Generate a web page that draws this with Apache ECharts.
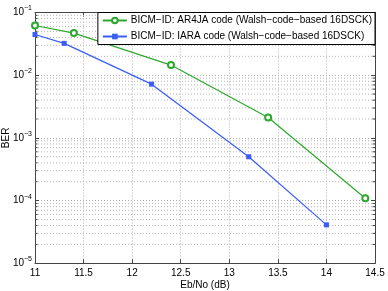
<!DOCTYPE html>
<html><head><meta charset="utf-8">
<script src="https://cdn.jsdelivr.net/npm/echarts@6/dist/echarts.min.js"></script>
<style>html,body{margin:0;padding:0;background:#fff}#c{width:388px;height:291px}</style>
</head><body><div id="c"></div>
<script>
const ar4jaX = [11, 11.4, 12.4, 13.4, 14.4];
const ar4jaY = [0.062, 0.047, 0.0145, 0.00212, 1.09e-4];
const iaraX = [11, 11.3, 12.2, 13.2, 14.0];
const iaraY = [0.0445, 0.0322, 0.0072, 5.0e-4, 4.1e-5];
const ar4jaName = 'BICM\u2212ID: AR4JA code (Walsh\u2212code\u2212based 16DSCK)';
const iaraName = 'BICM\u2212ID: IARA code (Walsh\u2212code\u2212based 16DSCK)';
const decades = [1e-5, 1e-4, 1e-3, 1e-2];
const minorMult = [2, 3, 4, 5, 6, 7, 8, 9];
const xMin = 11, xMax = 14.5;

const minorVals = [];
decades.forEach(d => minorMult.forEach(m => minorVals.push(+(d * m).toPrecision(3))));

const font = 'Liberation Sans, Arial, Helvetica, sans-serif';
const gridLine = {show: true, lineStyle: {type: [1, 2], color: '#b0b0b0', width: 1}};
const chart = echarts.init(document.getElementById('c'), null, {renderer: 'canvas'});
const supFmt = v => {
  const e = Math.round(Math.log10(v));
  return '{b|10}{s|' + (e < 0 ? '\u2212' + (-e) : e) + '}';
};
const green = '#2ca82c', blue = '#3a5cf7';
chart.setOption({
  animation: false,
  backgroundColor: '#fff',
  textStyle: {fontFamily: font},
  grid: {left: 35, right: 13, top: 12.5, bottom: 27.7, containLabel: false, outerBoundsMode: 'none'},
  legend: {
    right: 13, top: 12.5, orient: 'vertical',
    backgroundColor: '#fff', borderColor: '#000', borderWidth: 1, borderRadius: 0,
    padding: [3, 3, 3, 4], itemGap: 6, itemWidth: 24, itemHeight: 7,
    textStyle: {fontFamily: font, fontSize: 10, color: '#000', padding: [0, 0, 0, -1]},
    data: [ar4jaName, iaraName]
  },
  xAxis: [{
    type: 'value', min: xMin, max: xMax, interval: 0.5,
    name: 'Eb/No (dB)', nameLocation: 'middle', nameGap: 17, nameMoveOverlap: false,
    nameTextStyle: {fontFamily: font, fontSize: 10, color: '#000'},
    axisLine: {show: true, lineStyle: {color: '#444', width: 1}},
    axisTick: {show: true, inside: true, length: 4, lineStyle: {color: '#444'}},
    axisLabel: {fontFamily: font, fontSize: 10, color: '#000', margin: 5},
    splitLine: gridLine
  }, {
    type: 'value', min: xMin, max: xMax, interval: 0.5, position: 'top',
    axisLine: {show: true, lineStyle: {color: '#444', width: 1}},
    axisTick: {show: true, inside: true, length: 4, lineStyle: {color: '#444'}},
    axisLabel: {show: false}, splitLine: {show: false}
  }],
  yAxis: [{
    type: 'log', min: 1e-5, max: 1e-1, logBase: 10,
    name: 'BER', nameLocation: 'middle', nameGap: 24, nameMoveOverlap: false,
    nameTextStyle: {fontFamily: font, fontSize: 10, color: '#000'},
    axisLine: {show: true, lineStyle: {color: '#444', width: 1}},
    axisTick: {show: true, inside: true, length: 4, lineStyle: {color: '#444'}},
    axisLabel: {
      fontFamily: font, color: '#000', margin: 3, formatter: supFmt,
      rich: {b: {fontSize: 10, fontFamily: font, color: '#000'},
             s: {fontSize: 7, fontFamily: font, color: '#000', padding: [0, 0, 8, 0]}}
    },
    splitLine: gridLine
  }, {
    type: 'log', min: 1e-5, max: 1e-1, logBase: 10, position: 'right',
    axisLine: {show: true, lineStyle: {color: '#444', width: 1}},
    axisTick: {show: true, inside: true, length: 4, lineStyle: {color: '#444'}},
    axisLabel: {show: false}, splitLine: {show: false}
  }],
  series: [{
    type: 'custom', name: '__minor', silent: true, z: 1,
    data: minorVals.map(v => [xMin, v]),
    encode: {x: 0, y: 1},
    renderItem: (params, api) => {
      const v = api.value(1);
      const p1 = api.coord([xMin, v]);
      const p2 = api.coord([xMax, v]);
      return {
        type: 'group', children: [
          {type: 'line', shape: {x1: p1[0], y1: p1[1], x2: p2[0], y2: p2[1]},
           style: {stroke: '#b8b8b8', lineWidth: 1, lineDash: [1, 2]}},
          {type: 'line', shape: {x1: p1[0], y1: p1[1], x2: p1[0] + 2.5, y2: p1[1]},
           style: {stroke: '#444', lineWidth: 1}},
          {type: 'line', shape: {x1: p2[0] - 2.5, y1: p2[1], x2: p2[0], y2: p2[1]},
           style: {stroke: '#444', lineWidth: 1}}
        ]
      };
    }
  }, {
    type: 'line', name: ar4jaName, data: ar4jaX.map((x, i) => [x, ar4jaY[i]]),
    color: green, lineStyle: {width: 1.2, color: green},
    symbol: 'emptyCircle', symbolSize: 6,
    itemStyle: {color: green, borderWidth: 1.3},
    z: 3
  }, {
    type: 'line', name: iaraName, data: iaraX.map((x, i) => [x, iaraY[i]]),
    color: blue, lineStyle: {width: 1.2, color: blue},
    symbol: 'rect', symbolSize: 5,
    itemStyle: {color: blue},
    z: 3
  }]
});
</script></body></html>
